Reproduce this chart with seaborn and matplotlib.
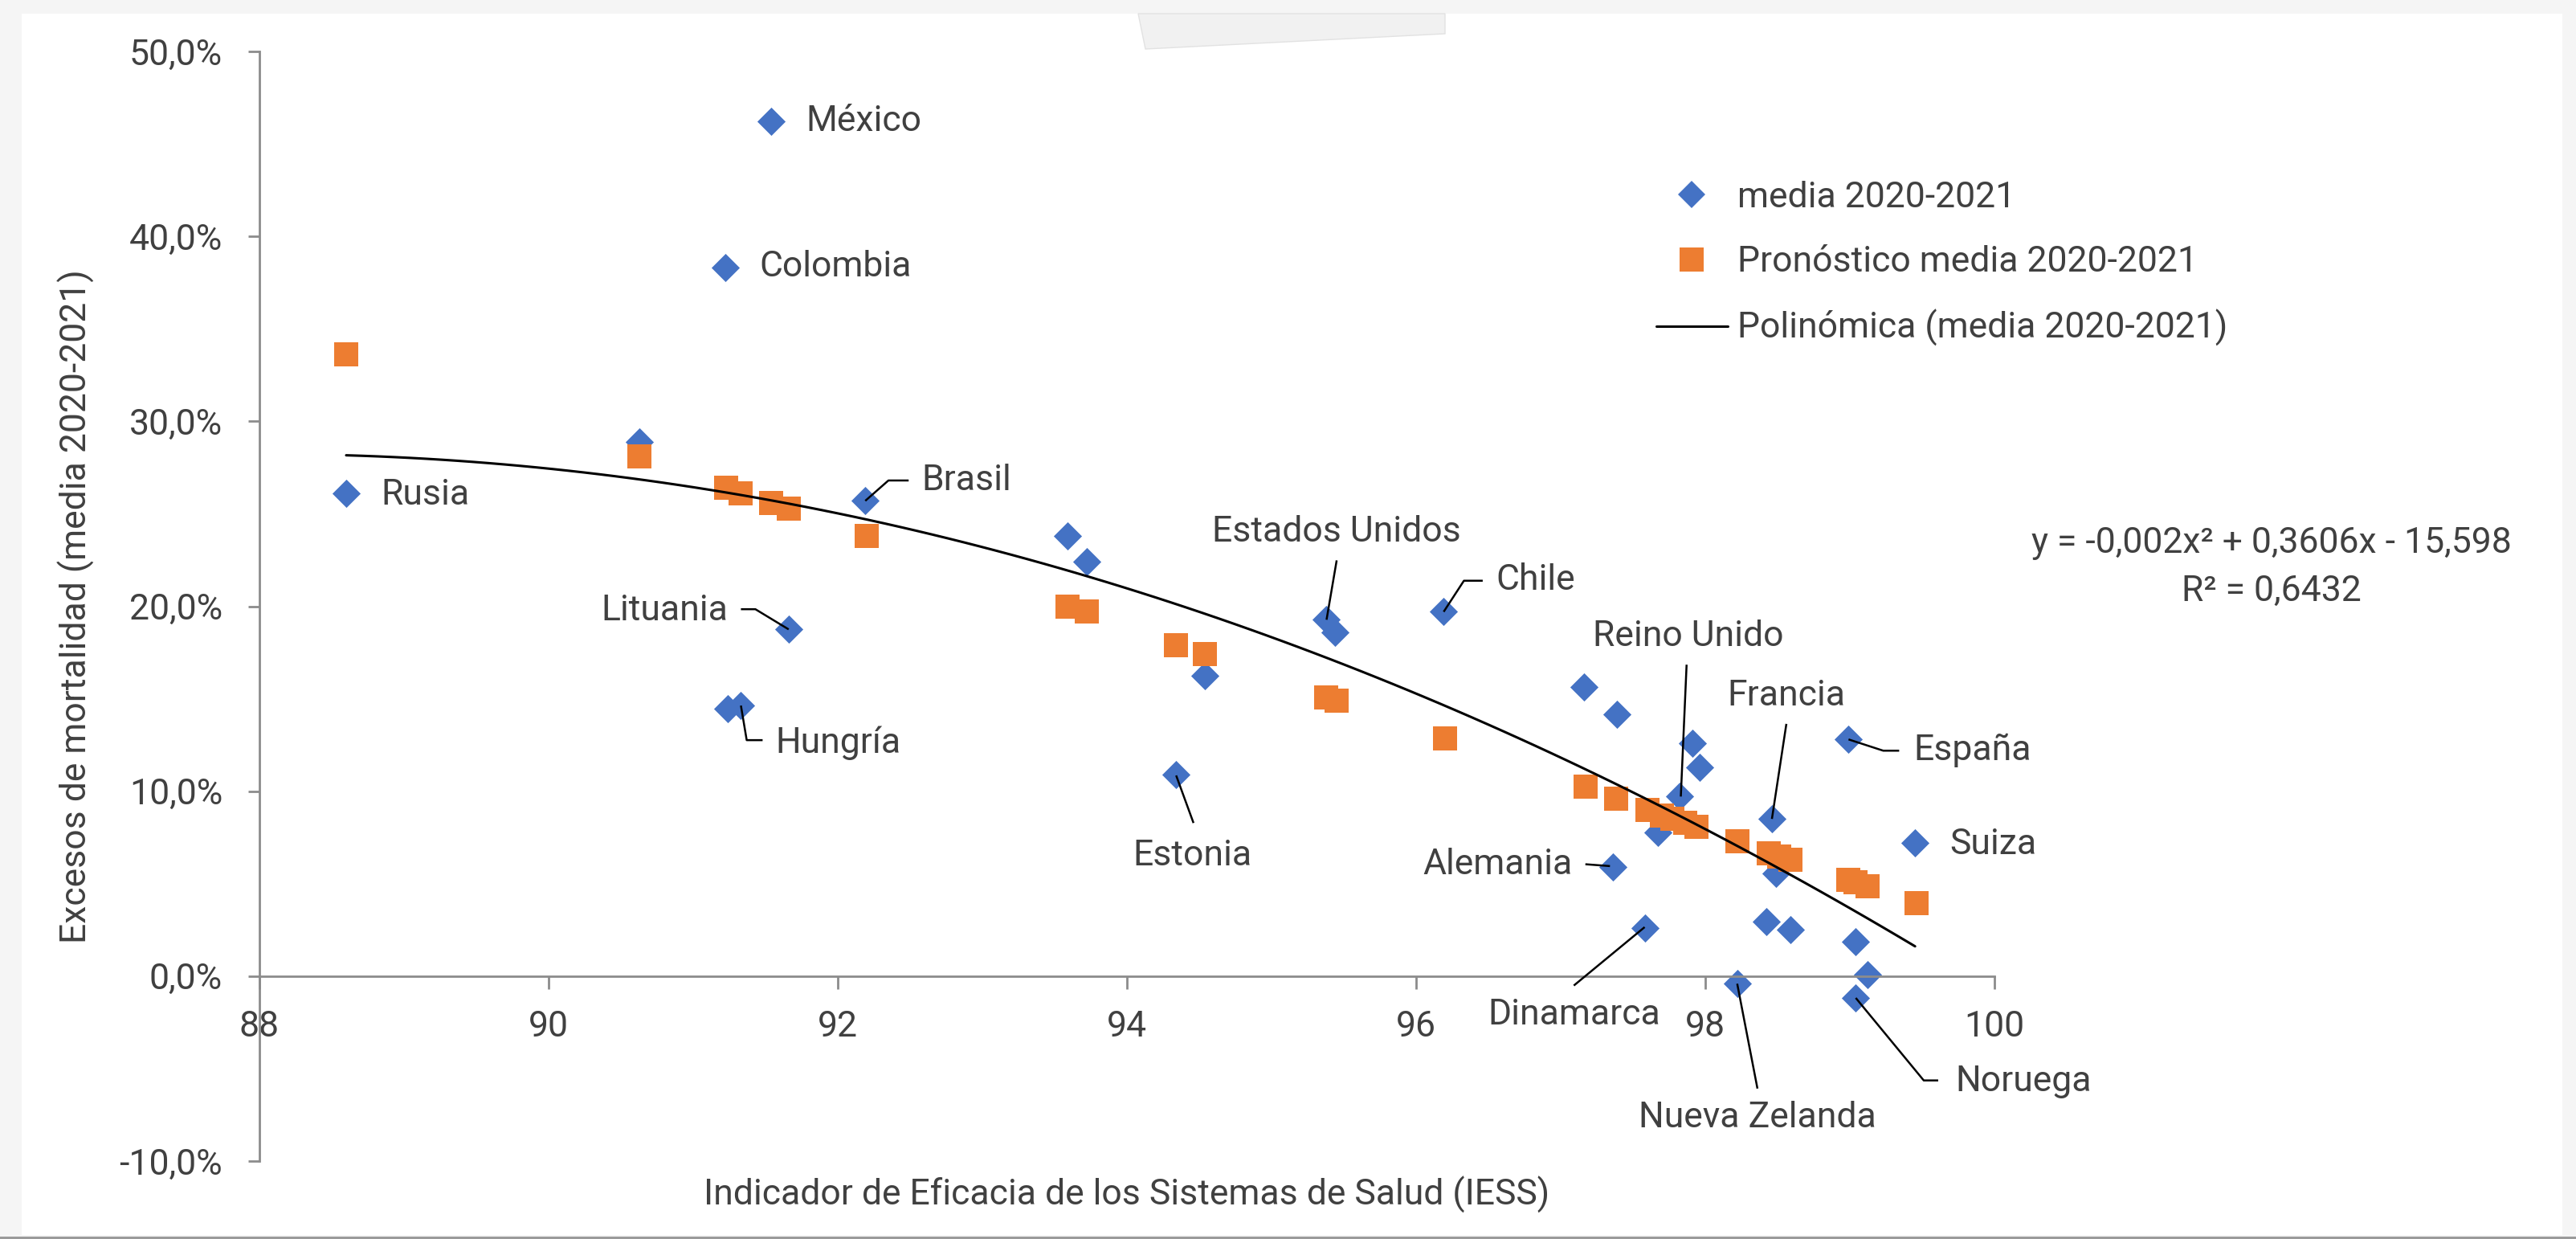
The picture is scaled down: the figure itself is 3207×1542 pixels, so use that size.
import numpy as np
import pandas as pd
import seaborn as sns
import matplotlib.pyplot as plt
from matplotlib.lines import Line2D
from matplotlib.patches import Rectangle, Polygon
from matplotlib.ticker import FuncFormatter, MultipleLocator

# ------------------------------- datos -------------------------------

paises = ["México", "Colombia", "Rusia", "", "Brasil", "", "", "Lituania", "Hungría", "",
          "", "Estonia", "Estados Unidos", "", "Chile", "", "", "Alemania", "Dinamarca",
          "Reino Unido", "", "", "", "Francia", "", "", "", "España", "Suiza", "", "",
          "Noruega", "Nueva Zelanda"]
iess = [91.54, 91.22, 88.60, 90.63, 92.19, 93.59, 93.72, 91.66, 91.33, 91.24,
        94.54, 94.34, 95.38, 95.44, 96.19, 97.16, 97.39, 97.36, 97.58,
        97.82, 97.67, 97.91, 97.96, 98.46, 98.49, 98.42, 98.59, 98.99, 99.45, 99.04, 99.12,
        99.04, 98.22]
exceso = [46.2, 38.3, 26.1, 28.9, 25.7, 23.8, 22.4, 18.75, 14.65, 14.45,
          16.25, 10.9, 19.3, 18.6, 19.7, 15.65, 14.15, 5.9, 2.62,
          9.72, 7.75, 12.6, 11.3, 8.5, 5.55, 2.95, 2.5, 12.8, 7.2, 1.87, 0.09,
          -1.17, -0.4]

iess_pron = [88.60, 90.63, 91.23, 91.33, 91.54, 91.66, 92.20, 93.59, 93.72, 94.34, 94.54,
             95.38, 95.45, 96.20, 97.17, 97.38, 97.60, 97.70, 97.77, 97.86, 97.94,
             98.22, 98.44, 98.51, 98.59, 98.99, 99.04, 99.12, 99.46]
exceso_pron = [33.6, 28.1, 26.4, 26.1, 25.6, 25.3, 23.8, 20.0, 19.7, 17.9, 17.4,
               15.05, 14.9, 12.85, 10.25, 9.6, 9.0, 8.7, 8.5, 8.3, 8.07,
               7.3, 6.66, 6.47, 6.31, 5.2, 5.08, 4.88, 3.95]

df = pd.DataFrame({"pais": paises, "iess": iess, "exceso": exceso})
df_pron = pd.DataFrame({"iess": iess_pron, "exceso": exceso_pron})

# posicion de las etiquetas (x, y, ha) y lineas guia
etiquetas = {
    "México": (91.78, 46.2, "left"),
    "Colombia": (91.46, 38.35, "left"),
    "Rusia": (88.84, 26.0, "left"),
    "Brasil": (92.58, 26.8, "left"),
    "Lituania": (91.24, 19.75, "right"),
    "Hungría": (91.57, 12.6, "left"),
    "Estonia": (94.45, 6.5, "center"),
    "Estados Unidos": (95.45, 24.0, "center"),
    "Chile": (96.55, 21.4, "left"),
    "Reino Unido": (97.88, 18.35, "center"),
    "Francia": (98.56, 15.15, "center"),
    "España": (99.44, 12.2, "left"),
    "Suiza": (99.69, 7.1, "left"),
    "Alemania": (97.08, 6.05, "right"),
    "Dinamarca": (97.09, -2.1, "center"),
    "Nueva Zelanda": (98.36, -7.65, "center"),
    "Noruega": (99.73, -5.7, "left"),
}
guias = [
    [(92.19, 25.7), (92.35, 26.8), (92.49, 26.8)],
    [(91.66, 18.75), (91.43, 19.84), (91.33, 19.84)],
    [(91.33, 14.63), (91.37, 12.76), (91.48, 12.76)],
    [(94.34, 10.85), (94.46, 8.28)],
    [(95.38, 19.27), (95.45, 22.48)],
    [(96.19, 19.7), (96.33, 21.38), (96.46, 21.38)],
    [(97.83, 9.71), (97.87, 16.84)],
    [(98.46, 8.5), (98.56, 13.64)],
    [(98.99, 12.8), (99.23, 12.19), (99.34, 12.19)],
    [(97.17, 6.05), (97.34, 5.95)],
    [(97.58, 2.65), (97.09, -0.51)],
    [(98.22, -0.41), (98.36, -6.08)],
    [(99.04, -1.18), (99.51, -5.64), (99.61, -5.64)],
]

AZUL = "#4472C4"
NARANJA = "#ED7D31"
TEXTO = "#404040"
EJE = "#8c8c8c"
FS = 32

# ------------------------------- grafico -------------------------------

sns.set_theme(style="white")
plt.rcParams["font.family"] = ["Roboto", "DejaVu Sans"]

fig = plt.figure(figsize=(32.07, 15.42), dpi=100, facecolor="#f5f5f5")
fig.add_artist(Rectangle((27 / 3207, 1 - 1537 / 1542), (3190 - 27) / 3207, (1537 - 17) / 1542,
                         transform=fig.transFigure, facecolor="white", edgecolor="none", zorder=-10))
fig.add_artist(Rectangle((0, 0), 1, 3 / 1542, transform=fig.transFigure,
                         facecolor="#9a9a9a", edgecolor="none", zorder=-9))
fig.add_artist(Polygon([(1417 / 3207, 1 - 17 / 1542), (1799 / 3207, 1 - 17 / 1542),
                        (1799 / 3207, 1 - 42 / 1542), (1426 / 3207, 1 - 61 / 1542)],
                       closed=True, transform=fig.transFigure, facecolor="#f1f1f1",
                       edgecolor="#e2e2e2", lw=1, zorder=-8))

ax = fig.add_axes([0.1007, 0.0629, 0.6736, 0.8956])
ax.set_facecolor("none")

sns.scatterplot(data=df, x="iess", y="exceso", marker="D", s=320, color=AZUL,
                linewidth=0, ax=ax, zorder=2, legend=False)
sns.scatterplot(data=df_pron, x="iess", y="exceso", marker="s", s=436, color=NARANJA,
                linewidth=0, ax=ax, zorder=3, legend=False)
sns.regplot(data=df, x="iess", y="exceso", order=2, ci=None, scatter=False, truncate=True,
            ax=ax, line_kws=dict(color="black", lw=2.2, zorder=4))

for g in guias:
    xs, ys = zip(*g)
    ax.plot(xs, ys, color="black", lw=1.8, zorder=5, solid_capstyle="butt")

for nombre, (tx, ty, ha) in etiquetas.items():
    ax.text(tx, ty, nombre, ha=ha, va="center", fontsize=FS, color=TEXTO, zorder=6)

ax.set_xlim(88, 100)
ax.set_ylim(-10, 50)
ax.xaxis.set_major_locator(MultipleLocator(2))
ax.yaxis.set_major_locator(MultipleLocator(10))
ax.yaxis.set_major_formatter(FuncFormatter(lambda v, p: f"{v:.1f}%".replace(".", ",")))

for s in ["top", "right"]:
    ax.spines[s].set_visible(False)
ax.spines["bottom"].set_position(("data", 0))
for s in ["left", "bottom"]:
    ax.spines[s].set_color(EJE)
    ax.spines[s].set_linewidth(2)

ax.tick_params(axis="y", left=True, direction="out", length=10, width=2, color=EJE,
               pad=23, labelsize=FS, labelcolor=TEXTO)
ax.tick_params(axis="x", bottom=True, direction="out", length=11.5, width=2, color=EJE,
               pad=19, labelsize=FS, labelcolor=TEXTO)

ax.set_xlabel("Indicador de Eficacia de los Sistemas de Salud (IESS)", fontsize=FS, color=TEXTO)
ax.set_ylabel("Excesos de mortalidad (media 2020-2021)", fontsize=FS, color=TEXTO)
ax.xaxis.set_label_coords(0.5, -0.0304)
ax.xaxis.label.set_va("center")
ax.yaxis.set_label_coords(-0.1056, 0.5)
ax.yaxis.label.set_va("center")

handles = [
    Line2D([], [], marker="D", ls="none", color=AZUL, ms=17.5, mew=0),
    Line2D([], [], marker="s", ls="none", color=NARANJA, ms=21.5, mew=0),
    Line2D([], [], color="black", lw=2.2),
]
ax.legend(handles, ["media 2020-2021", "Pronóstico media 2020-2021", "Polinómica (media 2020-2021)"],
          loc="upper left", bbox_to_anchor=(2062 / 3207, 1 - 225 / 1542), bbox_transform=fig.transFigure,
          frameon=False, fontsize=FS, labelcolor=TEXTO, borderpad=0, borderaxespad=0,
          handlelength=2.0, handletextpad=0.27, labelspacing=0.86)

fig.text(2828 / 3207, 1 - 676 / 1542, "y = -0,002x² + 0,3606x - 15,598", ha="center", va="center",
         fontsize=FS, color=TEXTO)
fig.text(2828 / 3207, 1 - 736 / 1542, "R² = 0,6432", ha="center", va="center",
         fontsize=FS, color=TEXTO)

fig.savefig("out.png", dpi=100, facecolor=fig.get_facecolor())
